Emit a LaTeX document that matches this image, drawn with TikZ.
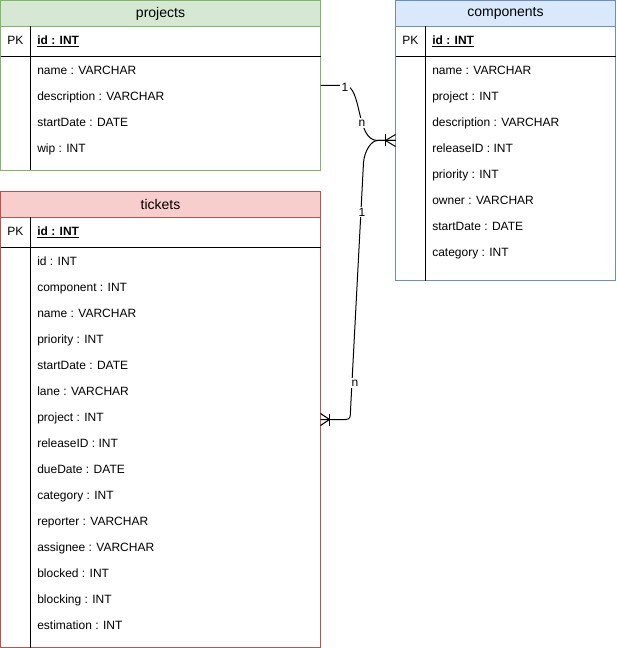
\documentclass[tikz,border=0pt]{standalone}
\usepackage{fontspec}
\setmainfont{Liberation Sans}
\usetikzlibrary{calc}

\definecolor{pgreen}{HTML}{82B366}
\definecolor{pgreenfill}{HTML}{D5E8D4}
\definecolor{cblue}{HTML}{6C8EBF}
\definecolor{cbluefill}{HTML}{DAE8FC}
\definecolor{tred}{HTML}{B85450}
\definecolor{tredfill}{HTML}{F8CECC}

\tikzset{
    tbl/.style={draw, line width=0.75pt, anchor=north west, inner sep=0pt, outer sep=0pt},
    tblhead/.style={tbl, minimum height=19.5pt, font=\fontsize{10.5}{12}\selectfont},
    attr/.style={anchor=west, inner sep=0pt, text height=6.6pt, text depth=1.9pt, font=\fontsize{9}{11}\selectfont},
    conn/.style={line width=0.75pt},
    card/.style={fill=white, inner sep=1pt, font=\fontsize{9}{11}\selectfont}
}

\begin{document}
\begin{tikzpicture}[x=0.75pt, y=-0.75pt]
    \useasboundingbox (0,0) rectangle (616,648);

    % projects
    \node[tbl, draw=pgreen, minimum width=240pt, minimum height=127.5pt] (projects) at (0.5,0.5) {};
    \node[tblhead, draw=pgreen, fill=pgreenfill, minimum width=240pt] (projects-head) at (0.5,0.5) {projects};
    \node[attr] (projects-pk) at (7,41) {PK};
    \node[attr] (projects-id) at (37,41) {\underline{\textbf{id : INT}}};
    \draw[line width=0.75pt] ($(projects.north west)+(0,56)$) -- ($(projects.north east)+(0,56)$);
    \draw[line width=0.75pt] ($(projects.north west)+(30,26)$) -- ($(projects.south west)+(30,0)$);
    \foreach \f [count=\i] in {name\ : VARCHAR, description : VARCHAR, startDate\ : DATE, wip : INT}
        \node[attr] (projects-f\i) at (37,{71+26*(\i-1)}) {\f};

    % components
    \node[tbl, draw=cblue, minimum width=165pt, minimum height=210pt] (components) at (395.5,0.5) {};
    \node[tblhead, draw=cblue, fill=cbluefill, minimum width=165pt] (components-head) at (395.5,0.5) {components};
    \node[attr] (components-pk) at (402,41) {PK};
    \node[attr] (components-id) at (432,41) {\underline{\textbf{id : INT}}};
    \draw[line width=0.75pt] ($(components.north west)+(0,56)$) -- ($(components.north east)+(0,56)$);
    \draw[line width=0.75pt] ($(components.north west)+(30,26)$) -- ($(components.south west)+(30,0)$);
    \foreach \f [count=\i] in {name : VARCHAR, project : INT, description : VARCHAR, releaseID : INT,
                               priority : INT, owner : VARCHAR, startDate : DATE, category : INT}
        \node[attr] (components-f\i) at (432,{71+26*(\i-1)}) {\f};

    % tickets
    \node[tbl, draw=tred, minimum width=240pt, minimum height=342pt] (tickets) at (0.5,191.5) {};
    \node[tblhead, draw=tred, fill=tredfill, minimum width=240pt] (tickets-head) at (0.5,191.5) {tickets};
    \node[attr] (tickets-pk) at (7,232) {PK};
    \node[attr] (tickets-id) at (37,232) {\underline{\textbf{id : INT}}};
    \draw[line width=0.75pt] ($(tickets.north west)+(0,56)$) -- ($(tickets.north east)+(0,56)$);
    \draw[line width=0.75pt] ($(tickets.north west)+(30,26)$) -- ($(tickets.south west)+(30,0)$);
    \foreach \f [count=\i] in {id : INT, component : INT, name : VARCHAR, priority : INT, startDate : DATE,
                               lane : VARCHAR, project : INT, releaseID : INT, dueDate : DATE, category : INT,
                               reporter : VARCHAR, assignee : VARCHAR, blocked : INT, blocking : INT, estimation : INT}
        \node[attr] (tickets-f\i) at (37,{262+26*(\i-1)}) {\f};

    % projects 1 -- n components
    \draw[conn] (projects.east) -- ++(24,0)
        .. controls +(18,0) and +(-22,0) .. ($(components.west)+(-18,0)$) -- (components.west);
    \node[card] (c1-one) at (345,87) {1};
    \node[card] (c1-many) at (362,123) {n};

    % components 1 -- n tickets
    \draw[conn] (tickets.east) -- ++(25,0)
        .. controls +(5,0) and +(0,6) .. ++(5,-9)
        -- ($(components.west)+(-32,22)$)
        .. controls +(1,-12) and +(-6,0) .. ($(components.west)+(-18,0)$) -- (components.west);
    \node[card] (c2-one) at (362,212) {1};
    \node[card] (c2-many) at (355,383) {n};

    % crow's feet
    \draw[conn] ($(components.west)+(-10,-6)$) -- ($(components.west)+(-10,6)$);
    \draw[conn] ($(components.west)+(0,-6)$) -- ($(components.west)+(-10,0)$) -- ($(components.west)+(0,6)$);
    \draw[conn] ($(tickets.east)+(9,-6)$) -- ($(tickets.east)+(9,6)$);
    \draw[conn] ($(tickets.east)+(0,-6)$) -- ($(tickets.east)+(9,0)$) -- ($(tickets.east)+(0,6)$);
\end{tikzpicture}
\end{document}
